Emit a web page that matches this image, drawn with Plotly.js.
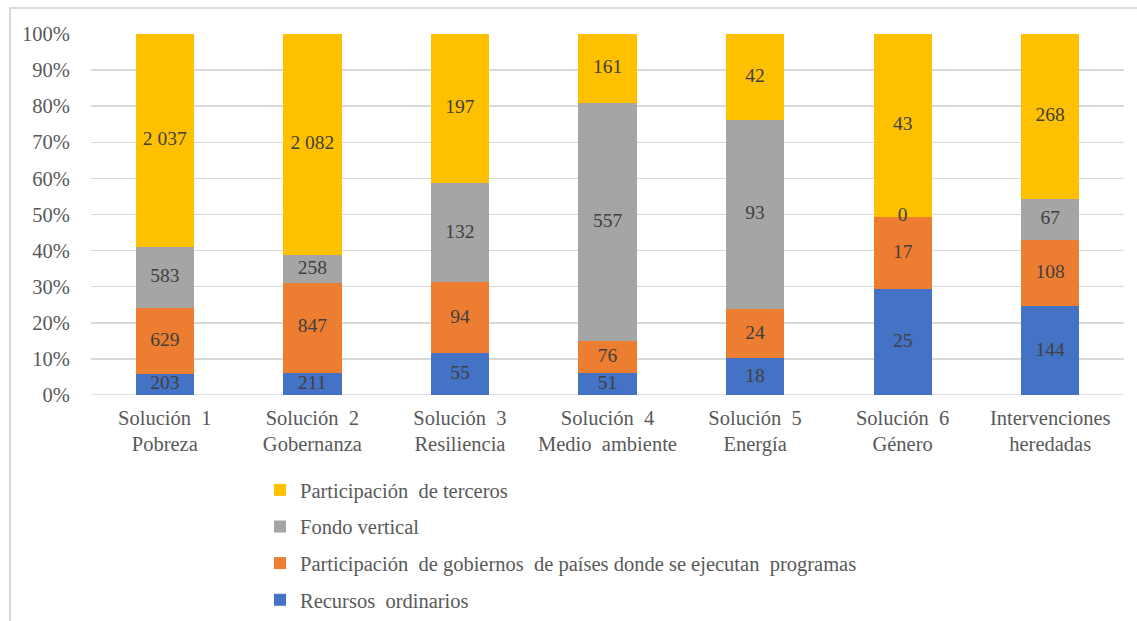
<!DOCTYPE html>
<html><head><meta charset="utf-8">
<script src="https://cdn.plot.ly/plotly-3.0.1.min.js"></script>
<style>html,body{margin:0;padding:0;background:#fff;}#chart{width:1137px;height:621px;}</style>
</head><body><div id="chart"></div>
<script>
const categories = [
  "Solución\u00a0\u00a01<br>Pobreza",
  "Solución\u00a0\u00a02<br>Gobernanza",
  "Solución\u00a0\u00a03<br>Resiliencia",
  "Solución\u00a0\u00a04<br>Medio\u00a0\u00a0ambiente",
  "Solución\u00a0\u00a05<br>Energía",
  "Solución\u00a0\u00a06<br>Género",
  "Intervenciones<br>heredadas"
];
const recursosOrdinarios = [203, 211, 55, 51, 18, 25, 144];
const gobiernos = [629, 847, 94, 76, 24, 17, 108];
const fondoVertical = [583, 258, 132, 557, 93, 0, 67];
const terceros = [2037, 2082, 197, 161, 42, 43, 268];

const seriesNames = [
  "Recursos\u00a0\u00a0ordinarios",
  "Participación\u00a0\u00a0de\u00a0gobiernos\u00a0\u00a0de\u00a0países\u00a0donde\u00a0se\u00a0ejecutan\u00a0\u00a0programas",
  "Fondo\u00a0vertical",
  "Participación\u00a0\u00a0de\u00a0terceros"
];
const seriesColors = ["#4472C4", "#ED7D31", "#A5A5A5", "#FFC000"];
const seriesValues = [recursosOrdinarios, gobiernos, fondoVertical, terceros];

const FONT = "'Liberation Serif', 'Times New Roman', Times, serif";
const totals = categories.map((_, i) => seriesValues.reduce((s, a) => s + a[i], 0));
function fmt(v) { return String(v).replace(/\B(?=(\d{3})+(?!\d))/g, "\u00a0"); }

const traces = seriesValues.map((vals, k) => ({
  type: "bar",
  name: seriesNames[k],
  legendgroup: "g" + k,
  legendrank: 1000 - k,
  x: categories,
  y: vals.map((v, i) => v / totals[i] * 100),
  marker: {color: seriesColors[k]},
  hoverinfo: "skip"
}));

// value labels at the middle of each segment
const lx = [], ly = [], lt = [];
seriesValues.forEach((vals, k) => {
  vals.forEach((v, i) => {
    let cum = 0;
    for (let j = 0; j < k; j++) cum += seriesValues[j][i];
    lx.push(categories[i]);
    ly.push((cum + v / 2) / totals[i] * 100);
    lt.push(fmt(v));
  });
});
traces.push({
  type: "scatter", mode: "text", x: lx, y: ly, text: lt, showlegend: false,
  textposition: "middle center", cliponaxis: false,
  textfont: {family: FONT, size: 19.5, color: "#404040"}, hoverinfo: "skip"
});

const W = 1033, H = 361, L = 91, T = 34;
const layout = {
  width: 1137, height: 621,
  margin: {l: L, r: 1137 - L - W, t: T, b: 621 - T - H, pad: 0, autoexpand: false},
  barmode: "stack",
  bargap: 0.605,
  paper_bgcolor: "#fff", plot_bgcolor: "#fff",
  font: {family: FONT, size: 20.5, color: "#595959"},
  showlegend: true,
  legend: {
    orientation: "v", traceorder: "grouped",
    x: (260 - L) / W, xanchor: "left",
    y: (T + H - 470) / H, yanchor: "top",
    font: {family: FONT, size: 20.5, color: "#595959"},
    tracegroupgap: 7, itemwidth: 30, bgcolor: "rgba(0,0,0,0)"
  },
  xaxis: {
    type: "category", showgrid: false, zeroline: false, showline: false,
    ticks: "outside", ticklen: 4, tickcolor: "rgba(0,0,0,0)",
    tickfont: {family: FONT, size: 20.5, color: "#595959"},
    fixedrange: true
  },
  yaxis: {
    range: [0, 100], tickvals: [0,10,20,30,40,50,60,70,80,90,100],
    ticktext: ["0%","10%","20%","30%","40%","50%","60%","70%","80%","90%","100%"],
    showgrid: true, gridcolor: "#D9D9D9", gridwidth: 1.5,
    zeroline: false, showline: false,
    ticks: "outside", ticklen: 16, tickcolor: "rgba(0,0,0,0)",
    tickfont: {family: FONT, size: 20.5, color: "#595959"},
    fixedrange: true
  },
  shapes: [
    {type: "line", xref: "paper", yref: "y", x0: 0, x1: 1, y0: 0, y1: 0, line: {color: "#D9D9D9", width: 1.5}, layer: "below"},
    {type: "rect", xref: "paper", yref: "paper",
     x0: (10 - L) / W, x1: (1140 - L) / W, y0: (T + H - 630) / H, y1: (T + H - 8) / H,
     line: {color: "#D9D9D9", width: 2}, fillcolor: "rgba(0,0,0,0)", layer: "below"}
  ]
};

Plotly.newPlot("chart", traces, layout, {displayModeBar: false, staticPlot: true});
</script></body></html>
